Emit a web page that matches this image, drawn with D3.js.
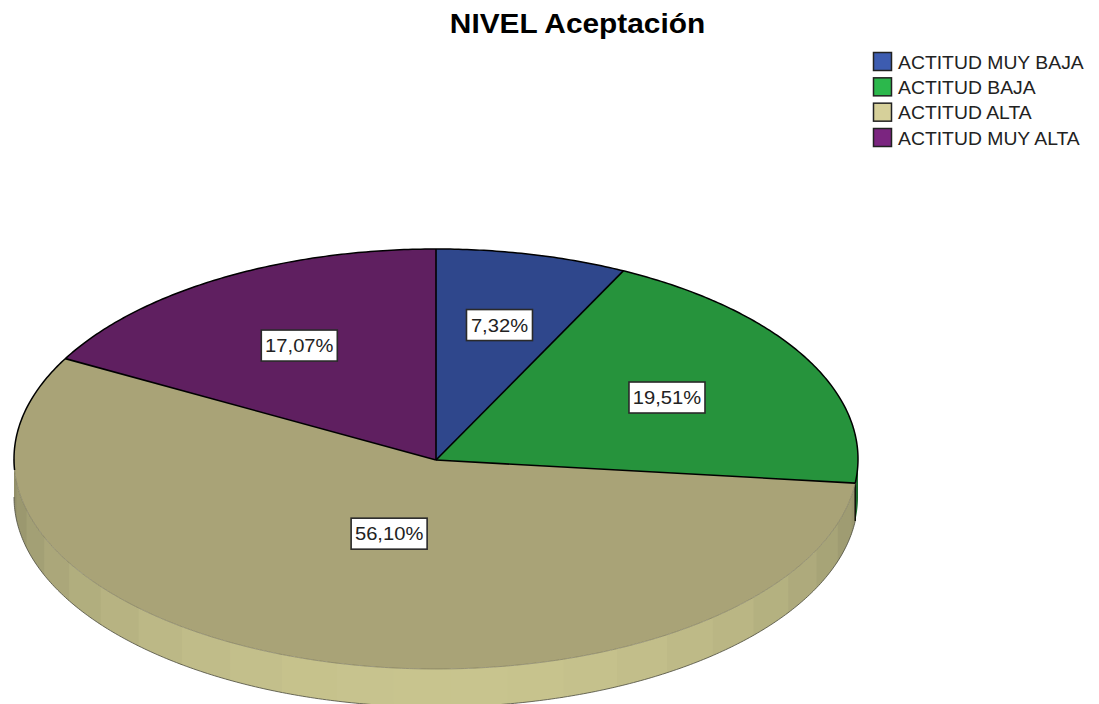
<!DOCTYPE html>
<html lang="es">
<head>
<meta charset="utf-8">
<title>NIVEL Aceptación</title>
<script src="https://cdn.jsdelivr.net/npm/d3@7"></script>
<style>
  html, body { margin: 0; padding: 0; background: #fff; }
  svg { display: block; }
  text { font-family: "Liberation Sans", Arial, sans-serif; }
</style>
</head>
<body>
<svg id="chart" width="1099" height="704"></svg>
<script>
// Chart content
const chartTitle = "NIVEL Aceptación";
const categories = ["ACTITUD MUY BAJA", "ACTITUD BAJA", "ACTITUD ALTA", "ACTITUD MUY ALTA"];
const percentages = [7.32, 19.51, 56.10, 17.07];

// Colours per category: top face of the disc, legend swatch, rim
const topColors = ["#2f478c", "#26933c", "#a9a377", "#5f1f60"];
const swatchColors = ["#3d5cb0", "#2cb84c", "#d6d09a", "#7b2580"];
const rimDark = "#8c8965";
const rimLight = "#c8c48e";
const rimGreen = "#1c6a2c";

// Radial placement of each value label, as a share of the radius
const labelRadius = [0.66, 0.623, 0.368, 0.634];

// Disc geometry; the hub sits a little below the ellipse centre
const cx = 436, cy = 459, rx = 422, ry = 210, depth = 38;
const hubY = 460;
const tau = Math.PI * 2;

const svg = d3.select("#chart");

// Angles run clockwise from twelve o'clock
const pie = d3.pie().sort(null).value(d => d).startAngle(0).endAngle(tau);
const slices = pie(percentages);

const px = a => cx + rx * Math.sin(a);
const py = a => cy - ry * Math.cos(a);

// Samples of the rim ellipse between two angles
const arcPoints = (a0, a1, dy = 0) => {
  const n = Math.max(2, Math.ceil(Math.abs(a1 - a0) / 0.01));
  return d3.range(n + 1).map(i => {
    const a = a0 + (a1 - a0) * i / n;
    return [px(a), py(a) + dy];
  });
};
const line = d3.line();

// Rim: only the near half of the disc shows its side
const deg = Math.PI / 180;
const rimStart = Math.PI / 2, rimEnd = 3 * Math.PI / 2;
const facetStep = 7.8 * deg;
const tanSlice = slices[2];
const rim = svg.append("g");

// Short strip of the green slice that wraps past the right edge
rim.append("path")
  .attr("d", line([
    ...arcPoints(rimStart, tanSlice.startAngle),
    ...arcPoints(tanSlice.startAngle, rimStart, depth)
  ]) + "Z")
  .attr("fill", rimGreen);

// Flat-shaded facets along the tan slice; each one runs slightly under the next
const rimShade = d3.scaleLinear().domain([0, 1]).range([rimDark, rimLight]);
const facetEdges = [tanSlice.startAngle];
for (let a = Math.PI + (-2 * deg) - 22 * facetStep; a < rimEnd; a += facetStep) {
  if (a > tanSlice.startAngle) facetEdges.push(a);
}
facetEdges.push(rimEnd);

rim.selectAll("path.facet")
  .data(d3.pairs(facetEdges))
  .join("path")
  .attr("class", "facet")
  .attr("d", ([a0, a1]) => {
    const end = Math.min(a1 + 0.6 * deg, rimEnd);
    return line([...arcPoints(a0, end), ...arcPoints(end, a0, depth)]) + "Z";
  })
  .attr("fill", ([a0, a1]) => {
    const off = Math.abs((a0 + a1) / 2 - Math.PI);
    return rimShade(Math.pow(Math.cos(off), 0.8));
  });

// Outer contour of the rim
rim.append("path")
  .attr("d", line(arcPoints(tanSlice.startAngle, rimEnd, depth)))
  .attr("fill", "none")
  .attr("stroke", "#4a4a3c")
  .attr("stroke-width", 0.8);

// Vertical silhouette where the tan rim meets the green strip
rim.append("line")
  .attr("x1", px(tanSlice.startAngle)).attr("x2", px(tanSlice.startAngle))
  .attr("y1", py(tanSlice.startAngle)).attr("y2", py(tanSlice.startAngle) + depth)
  .attr("stroke", "#0d0d08")
  .attr("stroke-width", 1.5);

// Top face: wedges fanned out from the hub
svg.append("g").selectAll("path")
  .data(slices)
  .join("path")
  .attr("d", d => line([[cx, hubY], ...arcPoints(d.startAngle, d.endAngle)]) + "Z")
  .attr("fill", (d, i) => topColors[i]);

// Faint line where the top face meets the rim
svg.append("path")
  .attr("d", line(arcPoints(tanSlice.startAngle, rimEnd)))
  .attr("fill", "none")
  .attr("stroke", "#77745a")
  .attr("stroke-width", 0.6);

// Black contour on the far half, plus the spokes between slices
svg.append("path")
  .attr("d", line(arcPoints(rimEnd - 3 * deg, rimStart + tau)))
  .attr("fill", "none")
  .attr("stroke", "#000")
  .attr("stroke-width", 1.5);
svg.append("path")
  .attr("d", line(arcPoints(rimStart, tanSlice.startAngle)))
  .attr("fill", "none")
  .attr("stroke", "#000")
  .attr("stroke-width", 1.5);
svg.selectAll("line.spoke")
  .data(slices)
  .join("line")
  .attr("class", "spoke")
  .attr("x1", cx).attr("y1", hubY)
  .attr("x2", d => px(d.startAngle))
  .attr("y2", d => py(d.startAngle))
  .attr("stroke", "#000")
  .attr("stroke-width", 1.6);

// Value labels in white boxes
const labelFormat = v => v.toFixed(2).replace(".", ",") + "%";
const labels = svg.selectAll("g.value-label")
  .data(slices)
  .join("g")
  .attr("class", "value-label")
  .attr("transform", (d, i) => {
    const mid = (d.startAngle + d.endAngle) / 2;
    const r = labelRadius[i];
    return `translate(${cx + rx * r * Math.sin(mid)},${hubY - ry * r * Math.cos(mid)})`;
  });
labels.append("rect")
  .attr("x", d => d.value < 10 ? -33 : -38)
  .attr("y", -15.5)
  .attr("width", d => d.value < 10 ? 66 : 76)
  .attr("height", 31)
  .attr("fill", "#fff")
  .attr("stroke", "#2a2a2a")
  .attr("stroke-width", 1.6);
labels.append("text")
  .attr("text-anchor", "middle")
  .attr("transform", "translate(0,6.5) scale(1.12,1)")
  .attr("font-size", 18)
  .attr("fill", "#222")
  .text(d => labelFormat(d.value));

// Title
svg.append("text")
  .attr("text-anchor", "middle")
  .attr("transform", "translate(577.5,33) scale(1.085,1)")
  .attr("font-size", 27.5)
  .attr("font-weight", "bold")
  .attr("fill", "#000")
  .text(chartTitle);

// Legend
const legendY = d3.scalePoint().domain(categories).range([62, 138]);
const legend = svg.selectAll("g.legend-row")
  .data(categories)
  .join("g")
  .attr("class", "legend-row")
  .attr("transform", d => `translate(873,${legendY(d)})`);
legend.append("rect")
  .attr("x", 0.5).attr("y", -9.5)
  .attr("width", 18).attr("height", 18)
  .attr("fill", (d, i) => swatchColors[i])
  .attr("stroke", "#222")
  .attr("stroke-width", 1.5);
legend.append("text")
  .attr("transform", "translate(25,6.5) scale(1.076,1)")
  .attr("font-size", 18)
  .attr("fill", "#222")
  .text(d => d);
</script>
</body>
</html>
